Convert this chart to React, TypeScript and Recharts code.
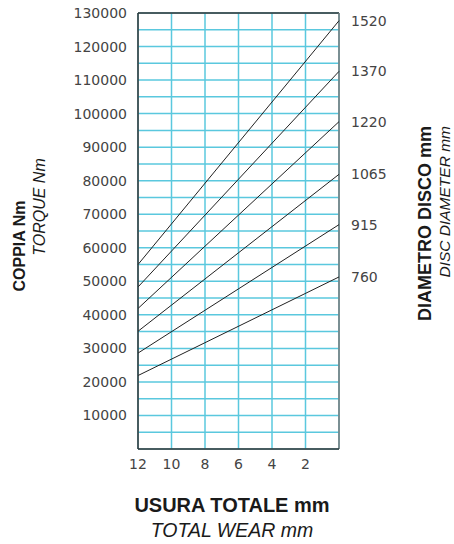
import React from 'react'
import { LineChart, Line, XAxis, YAxis, CartesianGrid, ReferenceLine } from 'recharts'

// usura totale (mm) -- the lines are straight, read at both ends of the plot
const wear = [12, 0]

const diameters = ['1520', '1370', '1220', '1065', '915', '760']

const torque1520 = [55000, 127700]
const torque1370 = [48300, 112600]
const torque1220 = [41900, 97600]
const torque1065 = [35100, 81900]
const torque915 = [28600, 66900]
const torque760 = [21900, 51300]

const xTicks = [12, 10, 8, 6, 4, 2]
const yTicks = [
  0, 5000, 10000, 15000, 20000, 25000, 30000, 35000, 40000, 45000, 50000, 55000, 60000, 65000,
  70000, 75000, 80000, 85000, 90000, 95000, 100000, 105000, 110000, 115000, 120000, 125000, 130000,
]
const yLabels = [10000, 20000, 30000, 40000, 50000, 60000, 70000, 80000, 90000, 100000, 110000, 120000, 130000]

const series = [torque1520, torque1370, torque1220, torque1065, torque915, torque760]

const data = wear.map((w, i) => {
  const row: Record<string, number> = { wear: w }
  diameters.forEach((d, k) => {
    row['d' + d] = series[k][i]
  })
  return row
})

const TICK_FONT = { fontSize: 14, fill: '#444', fontFamily: 'DejaVu Sans' }
const GRID = '#5ac8de'

const endLabel = (name: string) => (props: any) => {
  const { x, y, index } = props
  if (index !== wear.length - 1) return null
  return (
    <text x={x + 12} y={y} dy={5} fontSize={14} fill="#444" fontFamily="DejaVu Sans">
      {name}
    </text>
  )
}

export default function App() {
  return (
    <div style={{ position: 'absolute', left: 0, top: 0, width: 454, height: 544, background: '#fff' }}>
      <LineChart width={454} height={544} data={data} margin={{ top: 13, right: 115, bottom: 65, left: 0 }}>
        <CartesianGrid stroke={GRID} strokeWidth={1.5} />
        <XAxis
          dataKey="wear"
          type="number"
          domain={[0, 12]}
          reversed
          ticks={xTicks}
          height={30}
          tickLine={false}
          tickMargin={4}
          axisLine={{ stroke: '#333', strokeWidth: 1.5 }}
          tick={TICK_FONT}
        />
        <YAxis
          type="number"
          domain={[0, 130000]}
          ticks={yTicks}
          interval={0}
          width={138}
          tickLine={false}
          tickMargin={5}
          axisLine={{ stroke: '#333', strokeWidth: 1.5 }}
          tick={TICK_FONT}
          tickFormatter={(v: number) => (yLabels.includes(v) ? String(v) : '')}
        />
        <ReferenceLine y={130000} stroke="#333" strokeWidth={1.5} />
        <ReferenceLine x={0} stroke="#777" strokeWidth={1.5} />
        {diameters.map((d) => (
          <Line
            key={d}
            dataKey={'d' + d}
            stroke="#222"
            strokeWidth={1}
            dot={false}
            isAnimationActive={false}
            label={endLabel(d)}
          />
        ))}
      </LineChart>
      <svg
        width={454}
        height={544}
        style={{ position: 'absolute', left: 0, top: 0, pointerEvents: 'none' }}
        fontFamily="'Liberation Sans', Arial, sans-serif"
        fill="#1a1a1a"
      >
        <text transform="translate(25,246) rotate(-90)" textAnchor="middle" fontSize={16} fontWeight="bold">
          COPPIA Nm
        </text>
        <text transform="translate(45,207) rotate(-90)" textAnchor="middle" fontSize={16} fontStyle="italic">
          TORQUE Nm
        </text>
        <text transform="translate(431,126) rotate(-90)" textAnchor="end" fontSize={18} fontWeight="bold">
          DIAMETRO DISCO mm
        </text>
        <text transform="translate(450,126) rotate(-90)" textAnchor="end" fontSize={15.5} fontStyle="italic">
          DISC DIAMETER mm
        </text>
        <text x={232} y={512} textAnchor="middle" fontSize={20} fontWeight="bold">
          USURA TOTALE mm
        </text>
        <text x={232} y={537} textAnchor="middle" fontSize={19.5} fontStyle="italic">
          TOTAL WEAR mm
        </text>
      </svg>
    </div>
  )
}
